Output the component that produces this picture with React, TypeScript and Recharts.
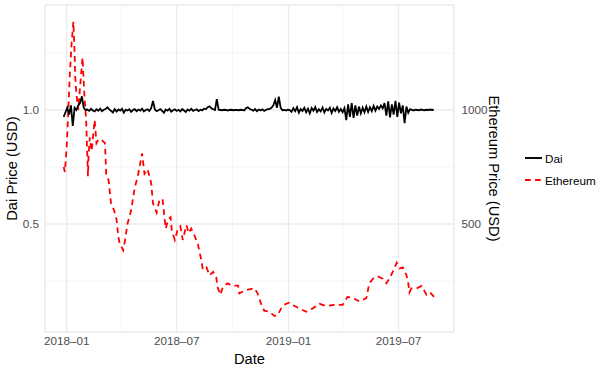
import { LineChart, Line, XAxis, YAxis, CartesianGrid, Legend } from 'recharts'

// Ethereum closing price (USD)
const ETH_DATES = [
  '2017-12-27', '2017-12-29', '2018-01-01', '2018-01-03', '2018-01-06', '2018-01-09', '2018-01-12', '2018-01-14',
  '2018-01-15', '2018-01-17', '2018-01-20', '2018-01-23', '2018-01-27', '2018-01-30', '2018-02-02', '2018-02-05',
  '2018-02-06', '2018-02-08', '2018-02-11', '2018-02-16', '2018-02-19', '2018-02-22', '2018-02-27', '2018-03-05',
  '2018-03-07', '2018-03-11', '2018-03-15', '2018-03-20', '2018-03-24', '2018-03-27', '2018-03-29', '2018-04-01',
  '2018-04-04', '2018-04-07', '2018-04-11', '2018-04-17', '2018-04-23', '2018-04-28', '2018-05-05', '2018-05-09',
  '2018-05-14', '2018-05-20', '2018-05-23', '2018-05-29', '2018-06-03', '2018-06-08', '2018-06-11', '2018-06-13',
  '2018-06-17', '2018-06-21', '2018-06-23', '2018-06-28', '2018-07-03', '2018-07-07', '2018-07-11', '2018-07-17',
  '2018-07-21', '2018-07-25', '2018-07-31', '2018-08-05', '2018-08-11', '2018-08-13', '2018-08-19', '2018-08-24',
  '2018-08-30', '2018-09-04', '2018-09-06', '2018-09-11', '2018-09-15', '2018-09-23', '2018-09-29', '2018-10-10',
  '2018-10-12', '2018-10-23', '2018-11-06', '2018-11-11', '2018-11-17', '2018-11-22', '2018-12-01', '2018-12-09',
  '2018-12-14', '2018-12-22', '2018-12-28', '2019-01-02', '2019-01-11', '2019-01-19', '2019-01-30', '2019-02-10',
  '2019-02-21', '2019-03-04', '2019-03-17', '2019-03-31', '2019-04-08', '2019-04-17', '2019-04-28', '2019-05-09',
  '2019-05-14', '2019-05-20', '2019-05-28', '2019-06-05', '2019-06-11', '2019-06-16', '2019-06-25', '2019-06-28',
  '2019-07-03', '2019-07-08', '2019-07-14', '2019-07-17', '2019-07-19', '2019-07-22', '2019-07-31', '2019-08-08',
  '2019-08-16', '2019-08-22', '2019-08-30',
]
const ETH_PRICES = [
  750, 728, 840, 956, 1146, 1290, 1387, 1250,
  1146, 1070, 1000, 1100, 1230, 1070, 956, 710,
  800, 880, 820, 956, 855, 870, 870, 855,
  720, 690, 590, 560, 520, 445, 415, 400,
  385, 430, 500, 560, 660, 710, 810, 720,
  740, 680, 590, 550, 610, 605, 525, 480,
  520, 530, 470, 430, 480, 490, 430, 495,
  460, 480, 445, 410, 335, 300, 310, 275,
  290, 270, 225, 190, 225, 240, 230, 230,
  196, 210, 218, 196, 150, 120, 115, 96,
  100, 140, 150, 155, 140, 130, 115, 130,
  150, 140, 145, 145, 180, 175, 160, 175,
  240, 260, 270, 260, 240, 260, 310, 330,
  305, 310, 276, 240, 200, 218, 218, 228,
  190, 200, 175,
]

// Dai price (USD), one reading every 3 days from 2017-12-27
const DAI_START = '2017-12-27'
const DAI_STEP_DAYS = 3
const DAI_PRICES = [
  0.97, 0.99, 1.01, 0.98, 1.02, 0.93, 1.01, 1.0, 1.02, 1.03, 1.06, 1.01, 1.0,
  1.002, 0.996, 1.005, 0.998, 0.994, 1.003, 0.997, 1.006, 0.995, 1.001, 1.004, 1.012,
  1.003, 0.996, 0.989, 1.004, 0.993, 1.002, 0.997, 1.005, 0.988, 1.001, 0.998, 1.003,
  0.992, 1.0, 1.004, 0.995, 1.002, 0.997, 1.006, 0.994, 1.0, 1.003, 0.996, 1.008,
  1.04,
  1.003, 0.995, 0.999, 1.004, 0.996, 0.988, 1.002, 0.997, 1.005, 0.993, 0.999, 1.003,
  0.996, 1.001, 0.994, 1.004, 0.998, 0.991, 1.002, 0.997, 1.005, 0.996, 1.0, 1.003,
  0.995, 1.001, 0.998, 1.006, 1.004, 1.012, 1.016, 1.008, 1.003,
  1.0, 1.048, 1.001,
  1.0, 0.999, 1.001, 1.0, 0.998, 1.0, 1.001, 0.999, 1.0, 1.0, 0.999, 1.001, 1.0, 0.998,
  1.008, 1.012, 1.005, 1.001, 0.997, 1.004, 0.995, 1.002, 0.998, 1.003, 0.996, 1.001, 1.004,
  1.005, 1.01, 1.02, 1.044, 1.01, 1.058, 1.01,
  0.999, 1.0, 0.998, 1.001, 1.0,
  0.992, 1.008, 0.995, 1.012, 0.988, 1.004, 0.996, 1.01, 0.99, 1.006,
  0.985, 1.009, 0.997, 1.013, 0.991, 1.003, 0.994, 1.011, 0.989, 1.005,
  0.998, 1.01, 0.987, 1.007, 0.996, 1.012, 0.992, 1.004, 0.99, 1.008,
  0.956, 1.025, 0.97, 1.03, 0.965, 1.02, 0.975, 1.015, 0.985,
  1.01, 0.99, 1.015, 0.992, 1.012, 0.995, 1.018, 0.997, 1.015, 1.005, 1.02, 1.008,
  1.03, 0.975, 1.038, 0.968, 1.025, 0.98, 1.04, 0.97, 1.032, 0.985, 1.02, 0.942,
  1.015, 0.988, 1.004, 1.0, 0.998, 1.001, 1.0, 0.999, 1.002, 1.0, 0.999, 1.001, 1.0, 1.002, 1.0, 1.001,
]

const X_MAJOR = ['2018-01-01', '2018-07-01', '2019-01-01', '2019-07-01']
const X_MAJOR_LABELS = ['2018–01', '2018–07', '2019–01', '2019–07']
const X_MINOR = ['2018-04-01', '2018-10-01', '2019-04-01']
const DAI_MAJOR = [0.5, 1.0]
const DAI_MINOR = [0.25, 0.75, 1.25]
const ETH_TICKS = [500, 1000]

const FONT = '"Liberation Sans", Arial, sans-serif'
const ORIGIN = Date.parse('2018-01-01')
const toDay = (s: string) => (Date.parse(s) - ORIGIN) / 86400000

const ethData = ETH_DATES.map((d, i) => ({ day: toDay(d), eth: ETH_PRICES[i] }))
const daiData = DAI_PRICES.map((v, i) => ({ day: toDay(DAI_START) + i * DAI_STEP_DAYS, dai: v }))

const X_DOMAIN = [-35.7, 637.3]
const DAI_DOMAIN = [0.0263, 1.4605]
const ETH_DOMAIN = [26.3, 1460.5]

const tick = { fill: '#4d4d4d', fontSize: 11.7, fontFamily: FONT }

function LegendBox() {
  const rows = [
    { name: 'Dai', color: '#000000', dash: undefined },
    { name: 'Ethereum', color: '#ff0000', dash: '5.7 4.3' },
  ]
  return (
    <div style={{ fontFamily: FONT, fontSize: 11.7, color: '#000' }}>
      {rows.map((r) => (
        <div key={r.name} style={{ display: 'flex', alignItems: 'center', height: 22 }}>
          <svg width={17} height={10} style={{ display: 'block' }}>
            <line x1={0} y1={5} x2={17} y2={5} stroke={r.color} strokeWidth={1.9} strokeDasharray={r.dash} />
          </svg>
          <span style={{ marginLeft: 3 }}>{r.name}</span>
        </div>
      ))}
    </div>
  )
}

export default function App() {
  return (
    <div style={{ position: 'absolute', left: 0, top: 0, width: 608, height: 373, background: '#fff', fontFamily: FONT }}>
      <LineChart width={608} height={373} margin={{ top: 5, right: 104, bottom: 0, left: 0 }}>
        <CartesianGrid xAxisId="xm" yAxisId="daim" stroke="#f2f2f2" strokeWidth={0.8} />
        <CartesianGrid xAxisId="x" yAxisId="dai" stroke="#ebebeb" strokeWidth={1.3} />
        <XAxis
          xAxisId="x" dataKey="day" type="number" domain={X_DOMAIN} allowDataOverflow
          ticks={X_MAJOR.map(toDay)} interval={0}
          tickFormatter={(v: number) => X_MAJOR_LABELS[X_MAJOR.map(toDay).indexOf(v)] ?? ''}
          axisLine={false} tickLine={false} tickSize={3} tickMargin={2} height={41} tick={tick}
          label={{ value: 'Date', position: 'insideBottom', offset: 9.5, style: { fill: '#000', fontSize: 14.7, fontFamily: FONT } }}
        />
        <XAxis xAxisId="xm" dataKey="day" type="number" domain={X_DOMAIN} allowDataOverflow ticks={X_MINOR.map(toDay)} interval={0} hide />
        <YAxis
          yAxisId="dai" orientation="left" type="number" domain={DAI_DOMAIN} allowDataOverflow
          ticks={DAI_MAJOR} interval={0} tickFormatter={(v: number) => v.toFixed(1)}
          axisLine={false} tickLine={false} tickSize={3} tickMargin={3} width={45} tick={tick}
          label={{ value: 'Dai Price (USD)', angle: -90, position: 'insideLeft', offset: 12, style: { textAnchor: 'middle', fill: '#000', fontSize: 14.7, fontFamily: FONT } }}
        />
        <YAxis yAxisId="daim" type="number" domain={DAI_DOMAIN} allowDataOverflow ticks={DAI_MINOR} interval={0} hide />
        <YAxis
          yAxisId="eth" orientation="right" type="number" domain={ETH_DOMAIN} allowDataOverflow
          ticks={ETH_TICKS} interval={0}
          axisLine={false} tickLine={false} tickSize={3} tickMargin={4.5} width={50} tick={tick}
          label={{ value: 'Ethereum Price (USD)', angle: 90, position: 'insideRight', offset: 10, style: { textAnchor: 'middle', fill: '#000', fontSize: 14.7, fontFamily: FONT } }}
        />
        <Line
          xAxisId="x" yAxisId="eth" data={ethData} dataKey="eth" name="Ethereum" type="linear"
          stroke="#ff0000" strokeWidth={1.8} strokeDasharray="5.7 4.3" dot={false} isAnimationActive={false}
        />
        <Line
          xAxisId="x" yAxisId="dai" data={daiData} dataKey="dai" name="Dai" type="linear"
          stroke="#000000" strokeWidth={1.8} dot={false} isAnimationActive={false}
        />
        <Legend
          layout="vertical" align="center" verticalAlign="middle"
          wrapperStyle={{ position: 'absolute', left: 525, top: 147, width: 83 }}
          content={() => <LegendBox />}
        />
      </LineChart>
    </div>
  )
}
